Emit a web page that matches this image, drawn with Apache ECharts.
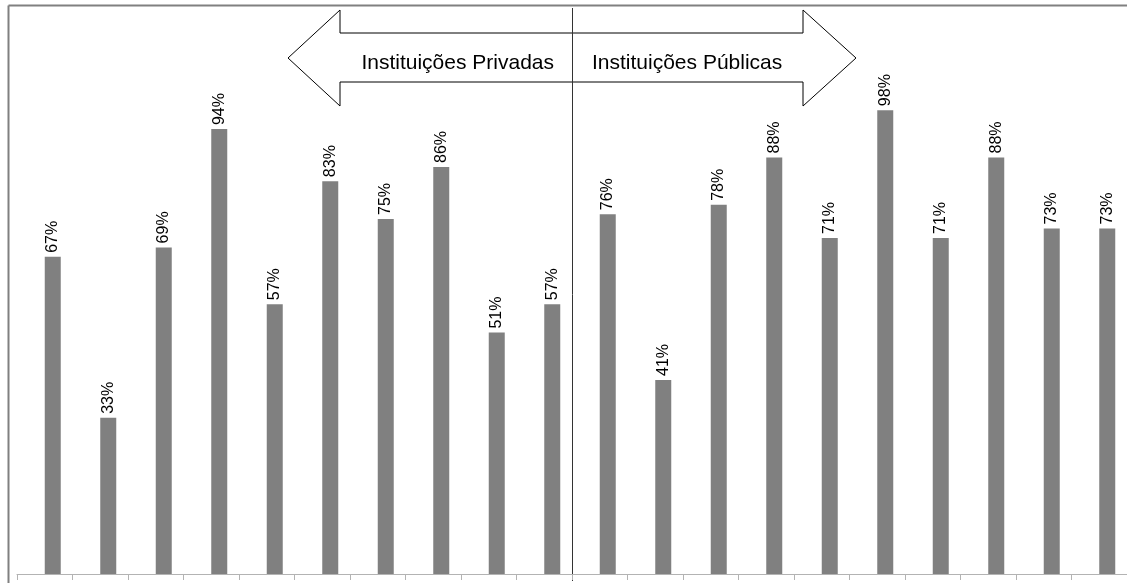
<!DOCTYPE html>
<html lang="pt">
<head>
    <meta charset="UTF-8">
    <title>Instituições</title>
    <script type="text/javascript" src="https://cdn.jsdelivr.net/npm/echarts@6/dist/echarts.min.js"></script>
    <style>
        html, body { margin: 0; padding: 0; background: #fff; }
        #main { width: 1127px; height: 583px; }
    </style>
</head>
<body>
<div id="main"></div>
<script type="text/javascript">
    // dados: 10 privadas + 10 públicas
    var categorias = ['P1', 'P2', 'P3', 'P4', 'P5', 'P6', 'P7', 'P8', 'P9', 'P10',
        'U1', 'U2', 'U3', 'U4', 'U5', 'U6', 'U7', 'U8', 'U9', 'U10'];
    var valores = [67, 33, 69, 94, 57, 83, 75, 86, 51, 57,
        76, 41, 78, 88, 71, 98, 71, 88, 73, 73];
    var vazio = categorias.map(function () { return '-'; });
    var rotulos = ['Instituições Privadas', 'Instituições Públicas'];

    const myChart = echarts.init(document.getElementById('main'));
    myChart.setOption({
        animation: false,
        grid: { left: 17, right: 0, top: 6, bottom: 9 },
        xAxis: {
            type: 'category',
            data: categorias,
            axisLine: { lineStyle: { color: '#b3b3b3', width: 1 } },
            axisTick: { show: true, length: 6, lineStyle: { color: '#b3b3b3' } },
            axisLabel: { show: false }
        },
        yAxis: {
            type: 'value',
            min: 0,
            max: 120,
            show: false,
            splitLine: { show: false }
        },
        series: [{
            // série vazia só para deslocar as barras como no original
            type: 'bar',
            data: vazio,
            barWidth: 16,
            barGap: '0%'
        }, {
            type: 'bar',
            data: valores,
            barWidth: 16,
            barGap: '0%',
            itemStyle: { color: '#808080' },
            label: {
                show: true,
                position: 'top',
                rotate: 90,
                align: 'left',
                verticalAlign: 'middle',
                distance: 4,
                color: '#000',
                fontFamily: 'Liberation Sans, Arial, sans-serif',
                fontSize: 16,
                formatter: '{c}%'
            }
        }],
        graphic: [
            // moldura
            { type: 'line', shape: { x1: 8.5, y1: 5.5, x2: 1127, y2: 5.5 }, style: { stroke: '#808080', lineWidth: 2 } },
            { type: 'line', shape: { x1: 8.5, y1: 5.5, x2: 8.5, y2: 583 }, style: { stroke: '#808080', lineWidth: 2 } },
            // seta dupla
            {
                type: 'polygon',
                shape: {
                    points: [[288, 58], [340, 10], [340, 33], [803, 33], [803, 10], [856, 58],
                        [803, 106], [803, 82], [340, 82], [340, 106]]
                },
                style: { fill: '#fff', stroke: '#000', lineWidth: 1 }
            },
            // divisória
            { type: 'line', shape: { x1: 572.5, y1: 8, x2: 572.5, y2: 581 }, style: { stroke: '#333', lineWidth: 1 } },
            {
                type: 'text', x: 554, y: 63,
                style: { text: rotulos[0], align: 'right', verticalAlign: 'middle', fill: '#000', font: '21px "Liberation Sans", Arial, sans-serif' }
            },
            {
                type: 'text', x: 592, y: 63,
                style: { text: rotulos[1], align: 'left', verticalAlign: 'middle', fill: '#000', font: '21px "Liberation Sans", Arial, sans-serif' }
            }
        ]
    });
</script>
</body>
</html>
